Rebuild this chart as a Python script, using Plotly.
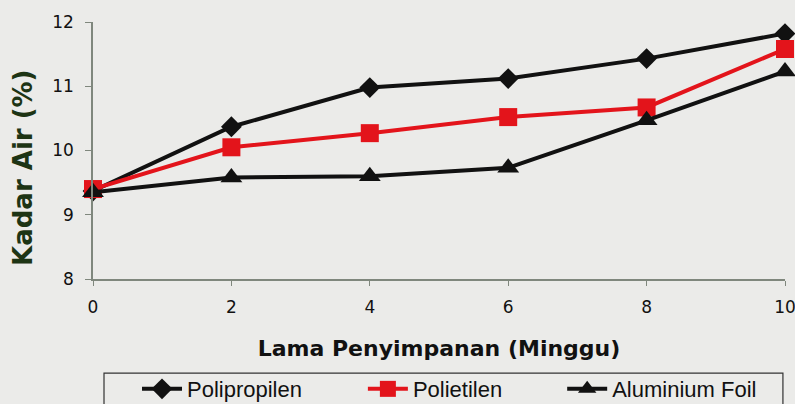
import plotly.graph_objects as go

weeks = [0, 2, 4, 6, 8, 10]
polipropilen = [9.37, 10.37, 10.98, 11.12, 11.43, 11.82]
polietilen = [9.40, 10.05, 10.27, 10.52, 10.67, 11.58]
aluminium_foil = [9.35, 9.58, 9.60, 9.73, 10.47, 11.23]

series = [
    ("Polipropilen", polipropilen, "#111111", "diamond", 16, "legend"),
    ("Polietilen", polietilen, "#e3141b", "square", 18, "legend2"),
    ("Aluminium Foil", aluminium_foil, "#111111", "triangle-up", 19, "legend3"),
]

fig = go.Figure()
for name, vals, color, symbol, size, leg in series:
    fig.add_trace(go.Scatter(
        x=weeks, y=vals, name=name, mode="lines+markers",
        line=dict(color=color, width=4),
        marker=dict(symbol=symbol, size=size, color=color),
        cliponaxis=False, legend=leg,
    ))

bg = "#ebebe9"
axis_col = "#7f877d"
leg_common = dict(
    orientation="h", yref="container", y=0.037, xanchor="left", yanchor="middle",
    bgcolor="rgba(0,0,0,0)", borderwidth=0,
    font=dict(family="Arial, Liberation Sans, sans-serif", size=22, color="#111111"),
    itemwidth=40,
)

fig.update_layout(
    width=795, height=404,
    margin=dict(l=93, r=10, t=22, b=125, autoexpand=False),
    paper_bgcolor=bg, plot_bgcolor=bg,
    font=dict(family="DejaVu Sans, sans-serif", color="#111111", size=17),
    showlegend=True,
    legend=dict(x=0.0636, **leg_common),
    legend2=dict(x=0.390, **leg_common),
    legend3=dict(x=0.678, **leg_common),
    xaxis=dict(
        range=[0, 10], tickvals=weeks, showgrid=False, zeroline=False,
        showline=True, linecolor=axis_col, linewidth=1.5,
        ticks="outside", ticklen=5, tickcolor=axis_col,
        tickfont=dict(size=17), ticklabelstandoff=7, ticklabeloverflow="allow",
        title=dict(text="<b>Lama Penyimpanan (Minggu)</b>",
                   font=dict(family="DejaVu Sans, sans-serif", size=22), standoff=24),
    ),
    yaxis=dict(
        range=[8, 12], dtick=1, showgrid=False, zeroline=False,
        showline=True, linecolor=axis_col, linewidth=1.5,
        ticks="outside", ticklen=6, tickcolor=axis_col,
        tickfont=dict(size=17), ticklabelstandoff=8,
    ),
    annotations=[dict(
        text="<b>Kadar Air (%)</b>", textangle=-90,
        xref="paper", yref="paper", x=-0.1012, y=0.432,
        xanchor="center", yanchor="middle", showarrow=False,
        font=dict(family="DejaVu Sans, sans-serif", size=26, color="#1d3414"),
    )],
    shapes=[dict(
        type="rect", xref="paper", yref="paper",
        x0=0.0159, x1=0.997, y0=-0.366, y1=-0.56,
        line=dict(color="#333333", width=1.2), fillcolor="rgba(0,0,0,0)",
    )],
)

fig.write_html("out.html")
